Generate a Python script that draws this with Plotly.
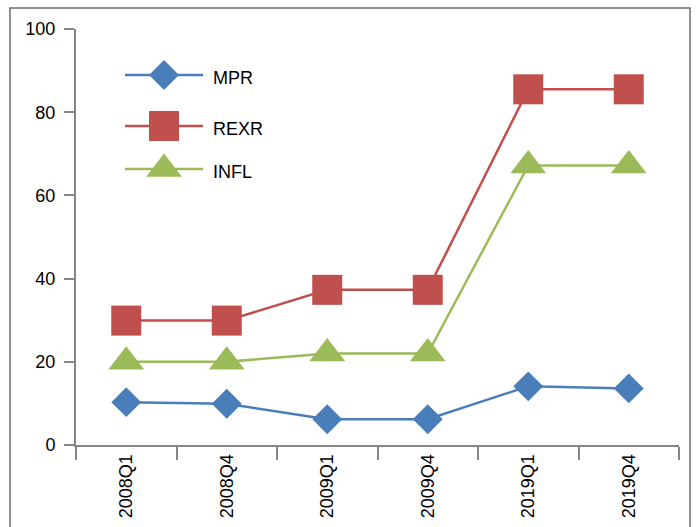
import plotly.graph_objects as go

categories = ["2008Q1", "2008Q4", "2009Q1", "2009Q4", "2019Q1", "2019Q4"]
mpr = [10.3, 9.9, 6.2, 6.2, 14.1, 13.6]
rexr = [29.9, 29.9, 37.3, 37.3, 85.5, 85.5]
infl = [20.0, 20.0, 22.0, 22.0, 67.2, 67.2]
series_names = ["MPR", "REXR", "INFL"]

colors = ["#4a7ebb", "#c0504d", "#9bbb59"]
symbols = ["diamond", "square", "triangle-up"]
sizes = [23, 30, 31]
series = [mpr, rexr, infl]

fig = go.Figure()
for name, vals, c, s, sz in zip(series_names, series, colors, symbols, sizes):
    fig.add_trace(go.Scatter(
        x=categories, y=vals, name=name, mode="lines+markers",
        line=dict(color=c, width=2.5),
        marker=dict(symbol=s, size=sz, color=c, line=dict(width=0)),
        showlegend=False, cliponaxis=False,
    ))

# custom legend on an overlay axis measured in pixels
leg_y = [75, 126, 169]
for name, c, s, sz, ly in zip(series_names, colors, symbols, sizes, leg_y):
    fig.add_trace(go.Scatter(
        x=[125, 203], y=[ly, ly], mode="lines",
        line=dict(color=c, width=2.5),
        xaxis="x2", yaxis="y2", showlegend=False, hoverinfo="skip",
    ))
    fig.add_trace(go.Scatter(
        x=[164], y=[ly], mode="markers",
        marker=dict(symbol=s, size=sz, color=c, opacity=1, line=dict(width=0)),
        xaxis="x2", yaxis="y2", showlegend=False, hoverinfo="skip",
    ))
    fig.add_annotation(x=211, y=ly + 3, xref="x2", yref="y2", text=name,
                       showarrow=False, xanchor="left", yanchor="middle",
                       font=dict(size=18, color="#000000"))

axis_col = "#868686"
fig.update_layout(
    width=696, height=527,
    margin=dict(l=76, r=17, t=29, b=82, autoexpand=False),
    paper_bgcolor="white", plot_bgcolor="white",
    font=dict(family="Liberation Sans, Arial, sans-serif", size=18, color="#000000"),
    xaxis=dict(
        type="category", showgrid=False, zeroline=False, automargin=False,
        showline=True, linecolor=axis_col, linewidth=2,
        ticks="outside", tickson="boundaries", ticklen=13, tickwidth=2,
        tickcolor=axis_col, tickangle=-90,
        tickfont=dict(size=18), range=[-0.5, 5.5],
    ),
    yaxis=dict(
        range=[0, 100], dtick=20, showgrid=False, zeroline=False, automargin=False,
        showline=True, linecolor=axis_col, linewidth=2,
        ticks="outside", ticklen=10, tickwidth=2, tickcolor=axis_col,
        tickfont=dict(size=18), ticksuffix=" ",
    ),
    xaxis2=dict(overlaying="x", range=[76, 679], visible=False, domain=[0, 1]),
    yaxis2=dict(overlaying="y", range=[445, 29], visible=False),
    shapes=[dict(
        type="rect", xref="paper", yref="paper",
        x0=(10 - 76) / 603, x1=(690 - 76) / 603,
        y0=(445 - 540) / 416, y1=(445 - 8) / 416,
        line=dict(color="#6d6d6d", width=1.5), fillcolor="rgba(0,0,0,0)",
        layer="below",
    )],
)

fig.write_html("out.html")
